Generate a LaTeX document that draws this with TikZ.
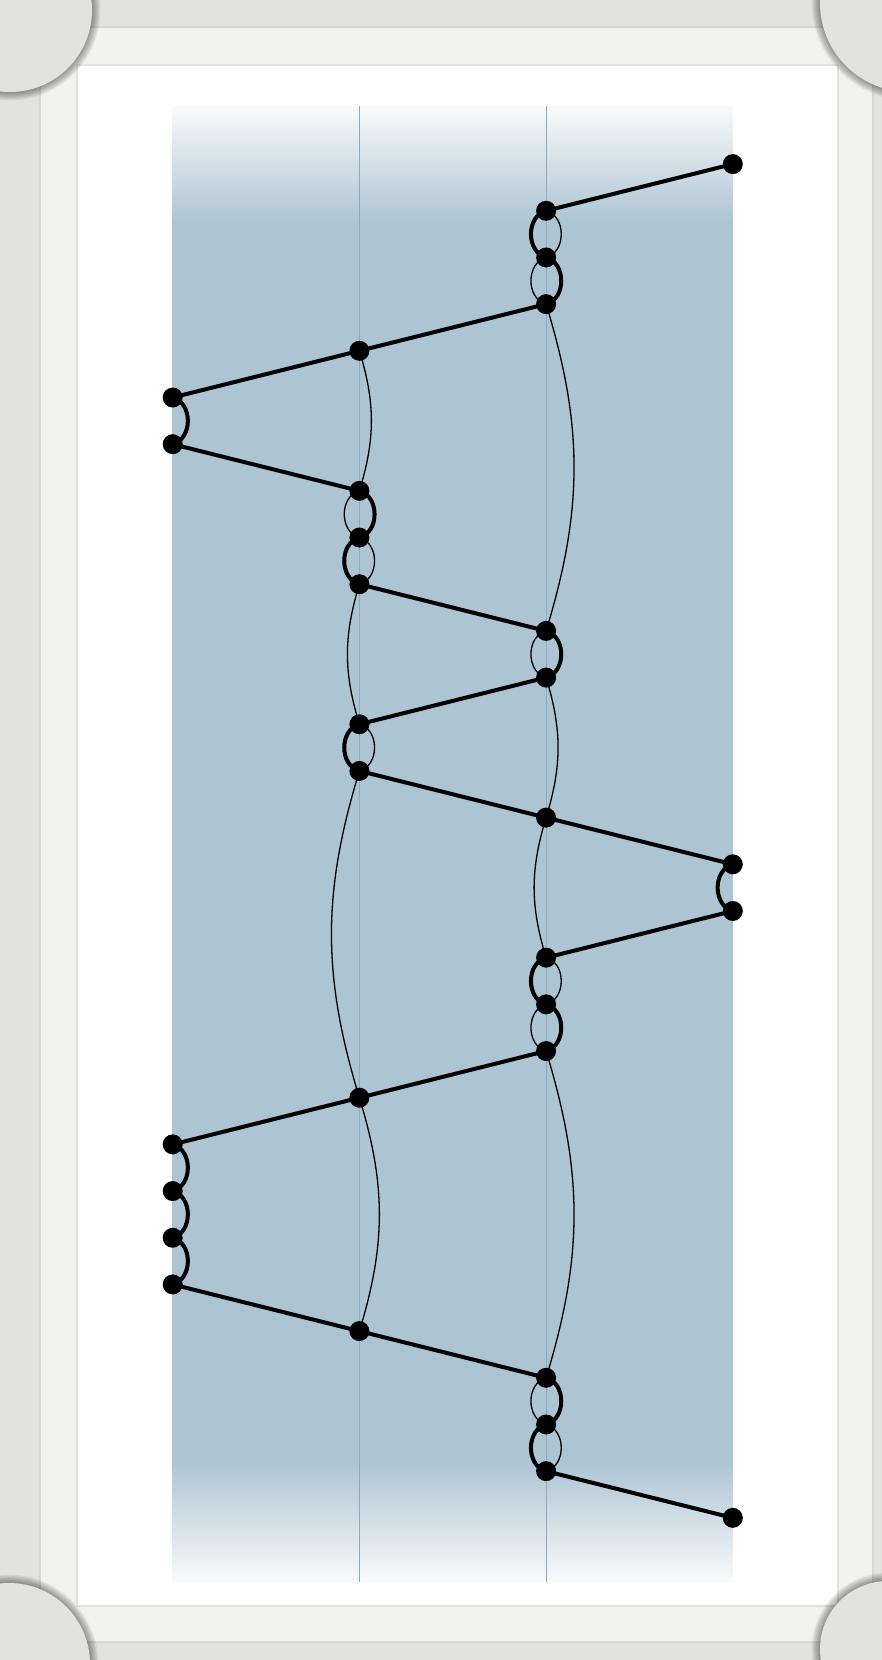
\documentclass[tikz,border=0pt]{standalone}
\definecolor{bgc}{HTML}{E2E3DE}
\definecolor{framec}{HTML}{F2F2F0}
\definecolor{frameline}{HTML}{D6D6D2}
\definecolor{blu}{HTML}{ADC4D3}
\definecolor{blutop}{HTML}{F9FAFB}
\definecolor{guide}{HTML}{8EA9BC}
\pgfdeclareverticalshading{bluefade}{100bp}{color(0bp)=(blutop); color(25bp)=(blutop); color(29.1bp)=(blu); color(71.05bp)=(blu); color(75bp)=(blutop); color(100bp)=(blutop)}
\pgfdeclarelayer{back}
\pgfdeclarelayer{edges}
\pgfsetlayers{back,edges,main}
\begin{document}
\begin{tikzpicture}[x=0.5pt,y=0.5pt,
  dot/.style={circle,fill=black,inner sep=0pt,minimum size=10pt},
  thickedge/.style={line width=2pt},
  thinedge/.style={line width=0.65pt},
  loopW/.style={bend right=75,looseness=1.15},
  loopE/.style={bend left=75,looseness=1.15},
  longW/.style={bend right=17},
  longE/.style={bend left=17}]
\useasboundingbox (0,0) rectangle (882,-1660);
\begin{pgfonlayer}{back}
  \fill[bgc] (0,0) rectangle (882,-1660);
  \fill[framec] (40,-27) rectangle (873,-1642);
  \draw[frameline,line width=0.6pt] (40,-27) rectangle (873,-1642);
  \fill[white] (77,-65) rectangle (838,-1606);
  \draw[frameline!70,line width=0.8pt] (77,-65) rectangle (838,-1606);
  \begin{scope}
    \clip (0,0) rectangle (882,-1660);
    \foreach \cx/\cy/\rr in {10/-10/82, 909/-3/89, 9/-1664/81, 888/-1649/68} {
      \foreach \i in {1,...,7}
        \fill[black,opacity=0.06] (\cx,\cy) circle ({\rr+\i*1.2});
      \fill[bgc] (\cx,\cy) circle (\rr);
    }
  \end{scope}
  \shade[shading=bluefade] (172.7,-106) rectangle (732.7,-1582);
  \draw[guide,line width=0.5pt] (359.4,-106) -- (359.4,-1582);
  \draw[guide,line width=0.5pt] (546.1,-106) -- (546.1,-1582);
\end{pgfonlayer}

\foreach \c [count=\r from 0] in {3,2,2,2,1,0,0,1,1,1,2,2,1,1,2,3,3,2,2,2,1,0,0,0,0,1,2,2,2,3}
  \node[dot] (n\r) at ({172.7+186.7*\c},{-(164.1+46.68*\r)}) {};

\begin{pgfonlayer}{edges}
  % thick straight connectors
  \foreach \a/\b in {0/1,3/4,4/5,6/7,9/10,11/12,13/14,14/15,16/17,19/20,20/21,24/25,25/26,28/29}
    \draw[thickedge] (n\a.center) -- (n\b.center);
  % short loops: thick west, thin east
  \foreach \a/\b in {1/2,8/9,12/13,17/18,27/28} {
    \draw[thickedge] (n\a.center) to[loopW] (n\b.center);
    \draw[thinedge] (n\a.center) to[loopE] (n\b.center);
  }
  % short loops: thin west, thick east
  \foreach \a/\b in {2/3,7/8,10/11,18/19,26/27} {
    \draw[thinedge] (n\a.center) to[loopW] (n\b.center);
    \draw[thickedge] (n\a.center) to[loopE] (n\b.center);
  }
  % single thick loops
  \foreach \a/\b in {5/6,21/22,22/23,23/24}
    \draw[thickedge] (n\a.center) to[loopE] (n\b.center);
  \draw[thickedge] (n15.center) to[loopW] (n16.center);
  % long thin curves
  \foreach \a/\b in {3/10,4/7,11/14,19/26,20/25}
    \draw[thinedge] (n\a.center) to[longE] (n\b.center);
  \foreach \a/\b in {9/12,13/20,14/17}
    \draw[thinedge] (n\a.center) to[longW] (n\b.center);
\end{pgfonlayer}
\end{tikzpicture}
\end{document}
